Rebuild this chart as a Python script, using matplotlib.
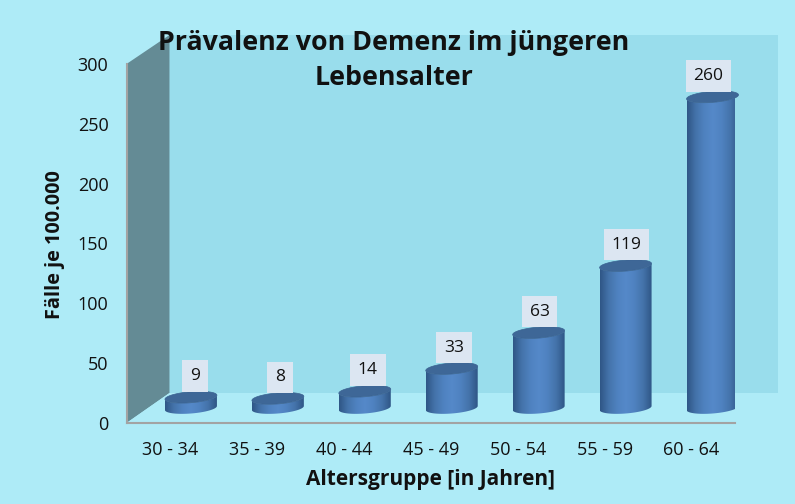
"""Prävalenz von Demenz im jüngeren Lebensalter, pseudo-3D cylinder chart."""
import matplotlib
matplotlib.use('Agg')
import matplotlib.pyplot as plt
import numpy as np
from matplotlib.colors import LinearSegmentedColormap
from matplotlib.patches import PathPatch, Polygon
from matplotlib.path import Path

age_groups = ['30 - 34', '35 - 39', '40 - 44', '45 - 49', '50 - 54', '55 - 59', '60 - 64']
cases = [9, 8, 14, 33, 63, 119, 260]
y_ticks = [0, 50, 100, 150, 200, 250, 300]

BG = '#aeebf7'
WALL = '#99ddec'
SIDE = '#648b95'
AXIS = '#a3a3a3'
W, H = 795, 504

plt.rcParams['font.family'] = ['Open Sans', 'DejaVu Sans']

fig = plt.figure(figsize=(W / 100, H / 100), dpi=100, facecolor=BG)
ax = fig.add_axes([126.5 / W, 1 - 423 / H, 608.5 / W, 359 / H])
ax.patch.set_alpha(0)

# depth of the fake 3D box, in data units
PX_X = 87
PX_Y = 359 / 300
DX = 43 / PX_X
DY = 30 / PX_Y
WALL_TOP = 300 + 29 / PX_Y

# walls
left, right = -0.5, 6.5
ax.add_patch(Polygon([(left + DX, DY), (right + DX, DY), (right + DX, WALL_TOP), (left + DX, WALL_TOP)],
                     closed=True, fc=WALL, ec='none', clip_on=False, zorder=1))
ax.add_patch(Polygon([(left, 0), (left + DX, DY), (left + DX, WALL_TOP), (left, 300)],
                     closed=True, fc=SIDE, ec='none', clip_on=False, zorder=2))
ax.add_patch(Polygon([(left, 0), (left + DX, DY), (right + DX, DY), (right, 0)],
                     closed=True, fc=BG, ec='none', clip_on=False, zorder=2))

# cylinders
shade = LinearSegmentedColormap.from_list('cyl', ['#2f5686', '#4473aa', '#4f82c0', '#5589c9', '#4f82c0',
                                                  '#4473aa', '#2f5686'])
grad = np.linspace(0, 1, 128).reshape(1, -1)
half = 26 / PX_X
rx_off = 21 / PX_X
ry_off = 15 / PX_Y
b = 5.5 / PX_Y
tilt = 2 / PX_Y
t = np.linspace(0, 2 * np.pi, 80)

# the value boxes do not sit at a constant distance from the ticks
label_dx = [25, 23, 24, 23, 22, 22, 17]

for i, (name, val) in enumerate(zip(age_groups, cases)):
    cx = i + rx_off
    y0 = ry_off
    y1 = y0 + val
    ex = cx + half * np.cos(t)
    top_y = y1 + b * np.sin(t) + tilt * np.cos(t)
    base_y = y0 + b * np.sin(t) + tilt * np.cos(t)

    # body outline: lower half of the base, lower half of the top
    lower = t >= np.pi
    xs = np.r_[ex[lower], ex[lower][::-1]]
    ys = np.r_[base_y[lower], top_y[lower][::-1]]
    body = Polygon(list(zip(xs, ys)), closed=True, transform=ax.transData, fc='none', ec='none')
    ax.add_patch(body)
    im = ax.imshow(grad, cmap=shade, extent=(cx - half, cx + half, y0 - b * 2, y1 + b * 2),
                   aspect='auto', zorder=4, clip_on=True)
    im.set_clip_path(body)
    ax.add_patch(PathPatch(Path(list(zip(ex, top_y))), fc='#3e6797', ec='#3a6291', lw=0.5,
                           clip_on=False, zorder=5))

    ax.annotate(str(val), (i, val), xytext=(label_dx[i] * 0.72, 36 * 0.72),
                textcoords='offset points', ha='center', va='center', fontsize=12.5, color='#111111',
                bbox=dict(boxstyle='square,pad=0.45', fc='#dce6f2', ec='none'),
                annotation_clip=False, zorder=6)

ax.set_xlim(left, right)
ax.set_ylim(0, 300)
ax.set_xticks(range(len(age_groups)))
ax.set_xticklabels(age_groups)
ax.set_yticks(y_ticks)
ax.tick_params(axis='both', length=0, labelsize=13, labelcolor='#111111')
ax.tick_params(axis='x', pad=13)
ax.tick_params(axis='y', pad=13)
for side in ['top', 'right']:
    ax.spines[side].set_visible(False)
for side in ['left', 'bottom']:
    ax.spines[side].set_color(AXIS)
    ax.spines[side].set_linewidth(1.5)
    ax.spines[side].set_zorder(3)

fig.text(394 / W, 1 - 60.5 / H, 'Prävalenz von Demenz im jüngeren\nLebensalter', ha='center', va='center',
         fontsize=19.3, fontweight='bold', color='#111111', linespacing=1.43, zorder=10)
fig.text(55 / W, 1 - 245 / H, 'Fälle je 100.000', rotation=90, ha='center', va='center',
         fontsize=14.3, fontweight='bold', color='#111111')
fig.text(430 / W, 1 - 480 / H, 'Altersgruppe [in Jahren]', ha='center', va='center',
         fontsize=15, fontweight='bold', color='#111111')

fig.savefig('out.png', dpi=100, facecolor=BG)
